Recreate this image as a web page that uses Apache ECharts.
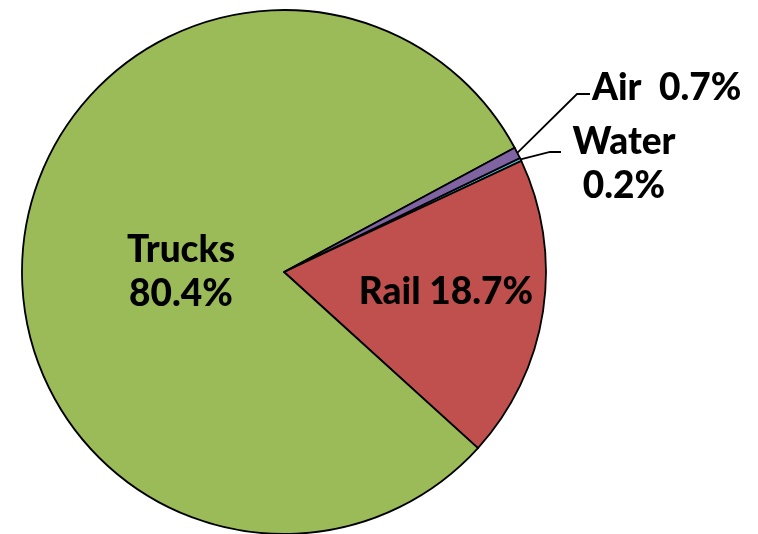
<!DOCTYPE html>
<html>
<head>
<meta charset="utf-8">
<script src="https://cdn.jsdelivr.net/npm/echarts@6/dist/echarts.min.js"></script>
<style>
  html, body { margin: 0; padding: 0; background: #fff; }
  #main { width: 758px; height: 534px; }
</style>
</head>
<body>
<div id="main"></div>
<script>
var modes = ['Water', 'Rail', 'Trucks', 'Air'];
var shares = [0.2, 18.7, 80.4, 0.7];
var labelTexts = ['Water\n0.2%', 'Rail 18.7%', 'Trucks\n80.4%', 'Air  0.7%'];
var colors = ['#4BACC6', '#C0504D', '#9BBB59', '#8064A2'];

// where each label sits on the page
var labelPos = {
  Water:  { x: 624, y: 164, align: 'center', line: true },
  Rail:   { x: 446, y: 292, align: 'center', line: false },
  Trucks: { x: 181, y: 272, align: 'center', line: false },
  Air:    { x: 592, y: 88,  align: 'left',   line: true }
};

var myChart = echarts.init(document.getElementById('main'));

var pieData = modes.map(function (m, i) {
  return {
    name: m,
    value: shares[i],
    itemStyle: { color: colors[i] },
    labelLine: { show: labelPos[m].line }
  };
});

var option = {
  animation: false,
  series: [
    {
      type: 'pie',
      center: [284, 272],
      radius: 262,
      startAngle: 25.8,
      clockwise: true,
      avoidLabelOverlap: false,
      itemStyle: { borderColor: '#000', borderWidth: 1.8 },
      label: {
        show: true,
        position: 'outside',
        formatter: function (p) { return labelTexts[p.dataIndex]; },
        fontFamily: 'Lato',
        fontWeight: 900,
        fontSize: 37,
        lineHeight: 44,
        color: '#000'
      },
      labelLine: {
        lineStyle: { color: '#000', width: 1.8 },
        length: 20,
        length2: 10
      },
      labelLayout: function (params) {
        var m = modes[params.dataIndex];
        var pos = labelPos[m];
        var res = { x: pos.x, y: pos.y, align: pos.align, verticalAlign: 'middle' };
        if (pos.line && params.labelLinePoints) {
          var start = params.labelLinePoints[0];
          if (m === 'Air') {
            res.labelLinePoints = [start, [pos.x - 15, pos.y + 6], [pos.x - 2, pos.y + 6]];
          } else {
            res.labelLinePoints = [start, [pos.x - 74, pos.y - 12], [pos.x - 63, pos.y - 12]];
          }
        }
        return res;
      },
      data: pieData
    }
  ]
};

myChart.setOption(option);
</script>
</body>
</html>
